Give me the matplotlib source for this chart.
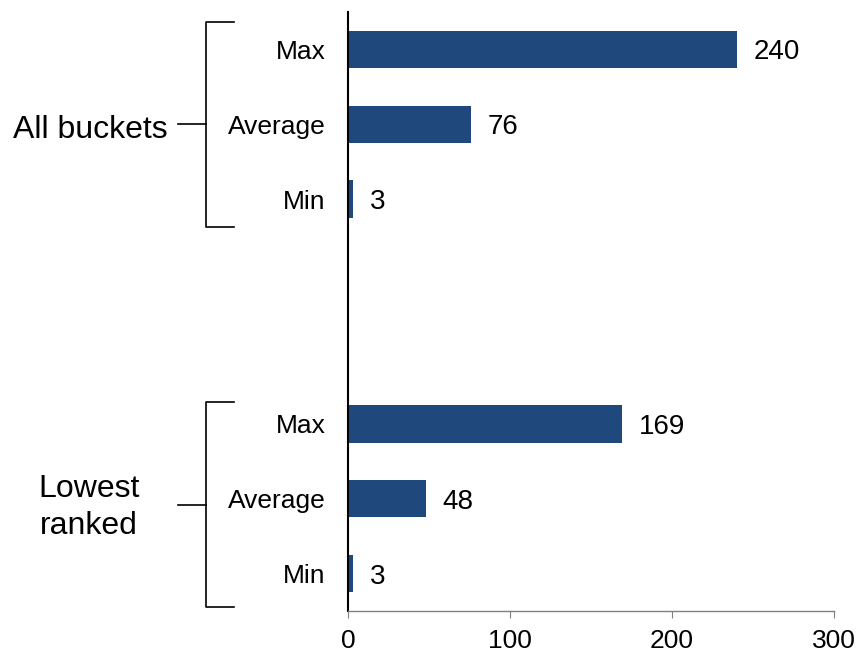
import numpy as np
import matplotlib
matplotlib.use('Agg')
import matplotlib.pyplot as plt
import matplotlib.transforms as mtransforms

plt.rcParams['font.family'] = ['Liberation Sans', 'DejaVu Sans']

groups = ['All buckets', 'Lowest\nranked']
cats = ['Max', 'Average', 'Min']
all_buckets = [240, 76, 3]
lowest_ranked = [169, 48, 3]

values = all_buckets + [np.nan, np.nan] + lowest_ranked
labels = cats + ['', ''] + cats
pos = np.arange(len(values))

fig = plt.figure(figsize=(8.6, 6.53), dpi=100)
ax = fig.add_axes([0.4047, 0.0643, 0.5651, 0.9173])

ax.barh(pos, values, height=0.5, color='#1F497D')
for p, v in zip(pos, values):
    if not np.isnan(v):
        ax.annotate(str(int(v)), (v, p), xytext=(12, 0), textcoords='offset points',
                    va='center_baseline', ha='left', fontsize=20)

ax.set_ylim(7.5, -0.5)
ax.set_xlim(0, 300)
ax.set_xticks([0, 100, 200, 300])
ax.set_yticks(pos)
ax.set_yticklabels(labels, fontsize=19, va='center_baseline')
ax.tick_params(axis='y', length=0, pad=16)
ax.tick_params(axis='x', length=5, color='#808080', labelsize=19, pad=8)

for s in ['top', 'right']:
    ax.spines[s].set_visible(False)
ax.spines['left'].set_color('black')
ax.spines['left'].set_linewidth(1.5)
ax.spines['bottom'].set_color('#808080')
ax.spines['bottom'].set_linewidth(1)

# brackets
tr = mtransforms.blended_transform_factory(ax.transAxes, ax.transData)
for c in [1.0, 6.08]:
    top, bot = c - 1.37, c + 1.37
    ax.plot([-0.2346, -0.292, -0.292, -0.2346], [top, top, bot, bot],
            color='black', lw=1.2, transform=tr, clip_on=False)
    ax.plot([-0.3498, -0.292], [c, c], color='black', lw=1.2,
            transform=tr, clip_on=False)

ax.text(-0.372, 1.03, groups[0], transform=tr, ha='right', va='center_baseline', fontsize=23)
ax.text(-0.533, 6.12, groups[1], transform=tr, ha='center', va='center',
        multialignment='center', fontsize=23, linespacing=1.3)

plt.savefig('out.png')
